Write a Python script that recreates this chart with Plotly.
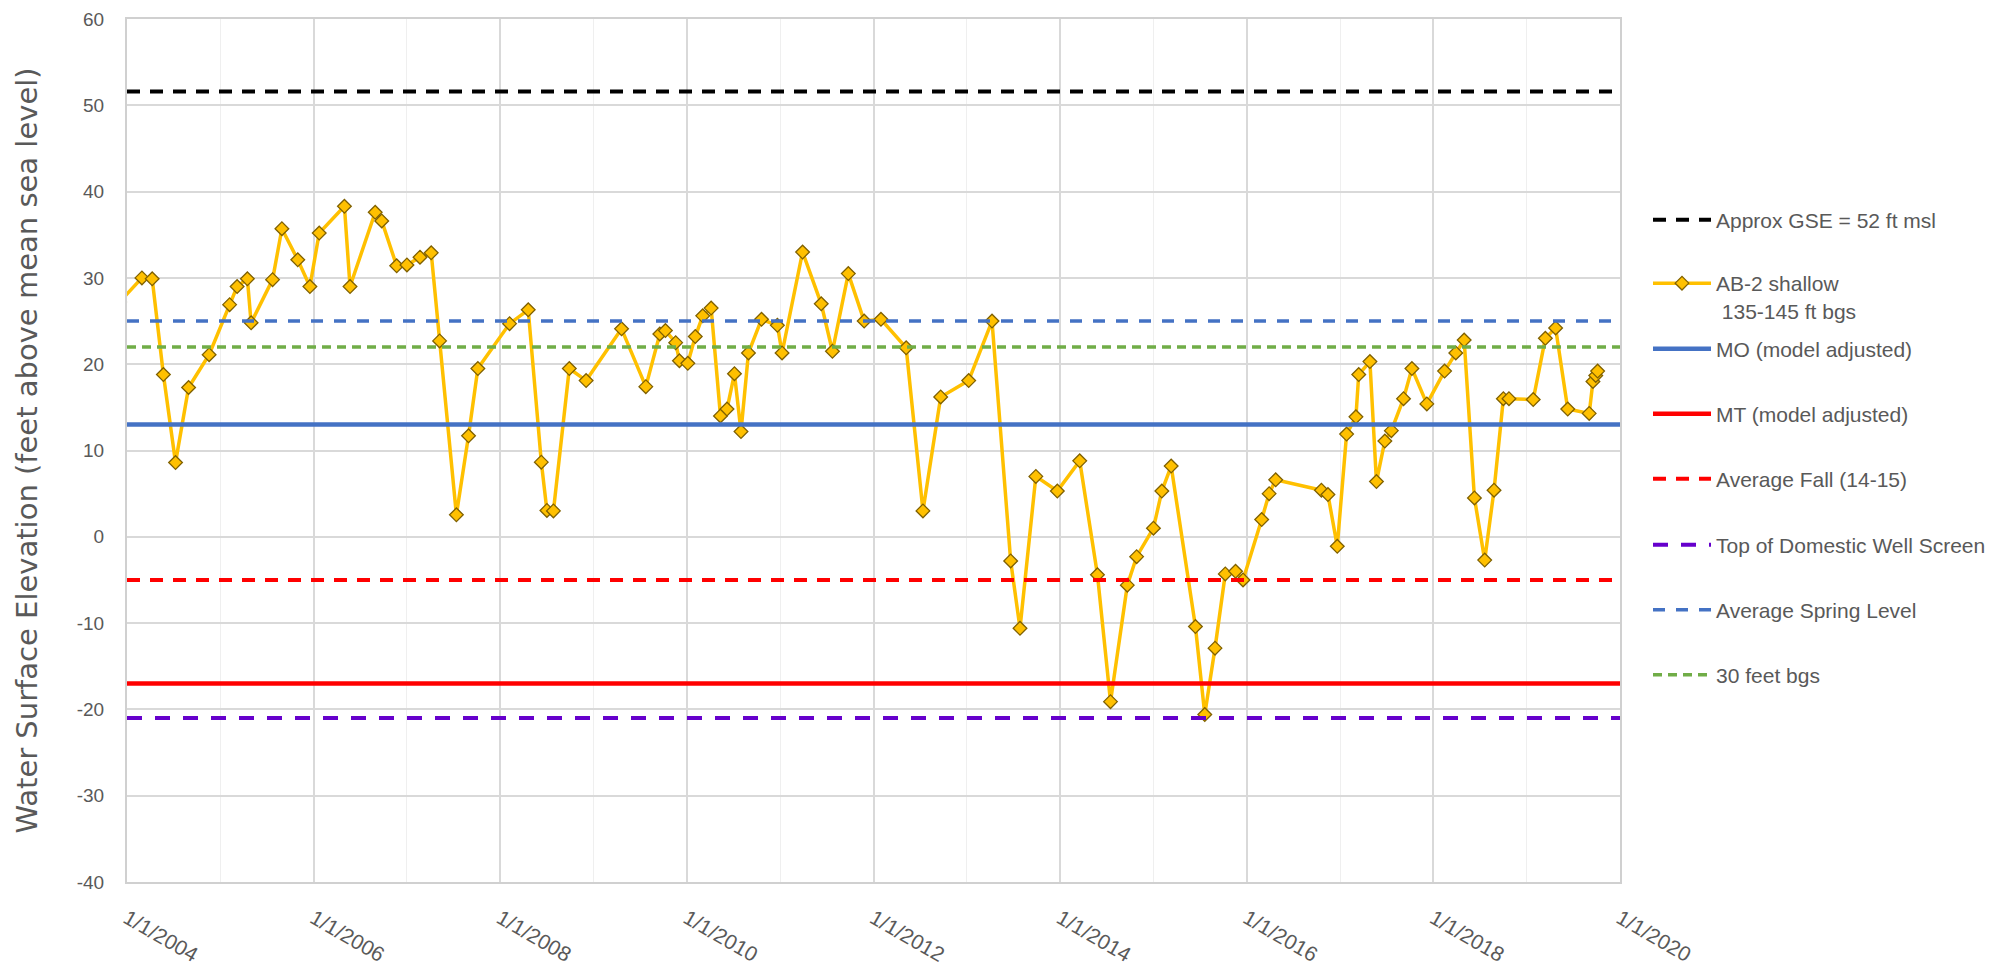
import plotly.graph_objects as go

# ---- data ----
years = [2003.92, 2004.16, 2004.27, 2004.39, 2004.52, 2004.66, 2004.88, 2005.10, 2005.18, 2005.29,
         2005.33, 2005.56, 2005.66, 2005.83, 2005.96, 2006.06, 2006.33, 2006.39, 2006.66, 2006.73,
         2006.89, 2007.00, 2007.14, 2007.26, 2007.35, 2007.53, 2007.66, 2007.76, 2008.10, 2008.30,
         2008.44, 2008.50, 2008.57, 2008.74, 2008.92, 2009.30, 2009.56, 2009.71, 2009.77, 2009.88,
         2009.92, 2010.01, 2010.09, 2010.17, 2010.26, 2010.36, 2010.43, 2010.51, 2010.58, 2010.66,
         2010.80, 2010.97, 2011.02, 2011.24, 2011.44, 2011.56, 2011.73, 2011.90, 2012.08, 2012.35,
         2012.53, 2012.72, 2013.02, 2013.27, 2013.47, 2013.57, 2013.74, 2013.97, 2014.21, 2014.40,
         2014.54, 2014.72, 2014.82, 2015.00, 2015.09, 2015.19, 2015.45, 2015.55, 2015.66, 2015.77,
         2015.88, 2015.96, 2016.16, 2016.24, 2016.31, 2016.80, 2016.87, 2016.97, 2017.07, 2017.17,
         2017.20, 2017.32, 2017.39, 2017.48, 2017.55, 2017.68, 2017.77, 2017.93, 2018.12, 2018.24,
         2018.33, 2018.44, 2018.55, 2018.65, 2018.75, 2018.81, 2019.07, 2019.20, 2019.31, 2019.44,
         2019.67, 2019.71, 2019.74, 2019.76]
ab2_shallow = [27.2, 30.0, 29.9, 18.8, 8.6, 17.3, 21.1, 26.9, 29.0, 29.9,
               24.8, 29.8, 35.7, 32.1, 29.0, 35.2, 38.3, 29.0, 37.6, 36.6,
               31.4, 31.5, 32.4, 32.9, 22.7, 2.55, 11.7, 19.5, 24.7, 26.3,
               8.65, 3.05, 3.0, 19.5, 18.1, 24.1, 17.4, 23.5, 23.9, 22.5,
               20.4, 20.1, 23.2, 25.6, 26.5, 14.0, 14.8, 18.9, 12.2, 21.3,
               25.2, 24.5, 21.3, 33.0, 27.0, 21.5, 30.5, 25.0, 25.2, 21.9,
               3.0, 16.2, 18.1, 25.0, -2.8, -10.6, 7.0, 5.3, 8.8, -4.4,
               -19.1, -5.6, -2.3, 1.0, 5.3, 8.2, -10.4, -20.6, -12.9, -4.3,
               -4.0, -5.0, 2.0, 5.0, 6.6, 5.4, 4.9, -1.1, 11.9, 13.9,
               18.8, 20.3, 6.4, 11.1, 12.3, 16.0, 19.5, 15.4, 19.2, 21.3,
               22.8, 4.5, -2.7, 5.4, 16.0, 16.0, 15.9, 23.0, 24.2, 14.8,
               14.3, 18.0, 18.7, 19.2]

ref_names = ["Approx GSE = 52 ft msl", "MO (model adjusted)", "MT (model adjusted)",
             "Average Fall (14-15)", "Top of Domestic Well Screen", "Average Spring Level", "30 feet bgs"]
ref_values = [51.6, 13.0, -17.0, -5.0, -21.0, 25.0, 22.0]
x_span = [2004, 2020]
tick_years = [2004, 2006, 2008, 2010, 2012, 2014, 2016, 2018, 2020]
tick_labels = ["1/1/2004", "1/1/2006", "1/1/2008", "1/1/2010", "1/1/2012",
               "1/1/2014", "1/1/2016", "1/1/2018", "1/1/2020"]
y_ticks = [-40, -30, -20, -10, 0, 10, 20, 30, 40, 50, 60]
y_tick_labels = ["-40", "-30", "-20", "-10", "0", "10", "20", "30", "40", "50", "60"]

# ---- styles ----
ref_styles = [
    dict(color="#000000", width=4, dash="13px,10px"),
    dict(color="#4472C4", width=4.5, dash="solid"),
    dict(color="#FF0000", width=4.5, dash="solid"),
    dict(color="#FF0000", width=4, dash="13px,10px"),
    dict(color="#6600CC", width=4, dash="15px,13px"),
    dict(color="#4472C4", width=3.5, dash="12px,11px"),
    dict(color="#70AD47", width=3.5, dash="9px,6px"),
]
legend_keys = ["legend", "legend3", "legend4", "legend5", "legend6", "legend7", "legend8"]

TXT = "#595959"
TICKFONT = "Liberation Sans, Arial, sans-serif"

fig = go.Figure()

fig.add_trace(go.Scatter(
    x=years, y=ab2_shallow, mode="lines+markers",
    name="AB-2 shallow<br> 135-145 ft bgs",
    line=dict(color="#FFC000", width=3.5),
    marker=dict(symbol="diamond", size=10.5, color="#FFC000", line=dict(color="#7F6000", width=1.3)),
    legend="legend2",
))

for nm, val, st, lk in zip(ref_names, ref_values, ref_styles, legend_keys):
    fig.add_trace(go.Scatter(
        x=x_span, y=[val, val], mode="lines", name=nm,
        line=st, legend=lk, hoverinfo="skip",
    ))

# figure-pixel geometry (page is offset by the 8px body margin)
L, R, T, B = 119, 1612, 11, 874
W, H = R - L, B - T
def py(pix):
    return (B - pix) / H

legend_centers = {"legend": 212, "legend2": 255, "legend3": 341, "legend4": 406,
                  "legend5": 471, "legend6": 537, "legend7": 602, "legend8": 667}
leg_common = dict(font=dict(family=TICKFONT, size=21, color=TXT), bgcolor="rgba(0,0,0,0)",
                  x=(1640 - L) / W, xanchor="left", yanchor="middle", itemwidth=58,
                  valign="top", tracegroupgap=0)
layout_legends = {}
for k, pix in legend_centers.items():
    d = dict(leg_common)
    d["y"] = py(pix)
    if k == "legend2":
        d["yanchor"] = "top"
    layout_legends[k] = d

fig.update_layout(
    width=1995, height=958,
    margin=dict(l=L, r=1995 - R, t=T, b=958 - B, autoexpand=False),
    paper_bgcolor="white", plot_bgcolor="white",
    showlegend=True,
    xaxis=dict(
        range=x_span, tickmode="array", tickvals=tick_years, ticktext=tick_labels,
        tickangle=30, tickfont=dict(family=TICKFONT, size=21, color=TXT),
        showgrid=True, gridcolor="#D9D9D9", gridwidth=1.5,
        minor=dict(dtick=1, tick0=2004, showgrid=True, gridcolor="#EFEFEF", gridwidth=1.2),
        showline=True, linecolor="#D0D0D0", linewidth=2, mirror=True,
        zeroline=False, ticks="", ticklabelstandoff=14, ticklabeloverflow="allow",
    ),
    yaxis=dict(
        range=[-40, 60], tickmode="array", tickvals=y_ticks, ticktext=y_tick_labels,
        tickfont=dict(family=TICKFONT, size=19, color=TXT),
        showgrid=True, gridcolor="#D9D9D9", gridwidth=1.5,
        showline=True, linecolor="#D0D0D0", linewidth=2, mirror=True,
        zeroline=False, ticks="", ticklabelstandoff=17, ticklabeloverflow="allow",
        title=dict(text="Water Surface Elevation (feet above mean sea level)",
                   font=dict(family="DejaVu Sans", size=29, color=TXT), standoff=31),
    ),
    **layout_legends,
)

fig.write_html("out.html")
